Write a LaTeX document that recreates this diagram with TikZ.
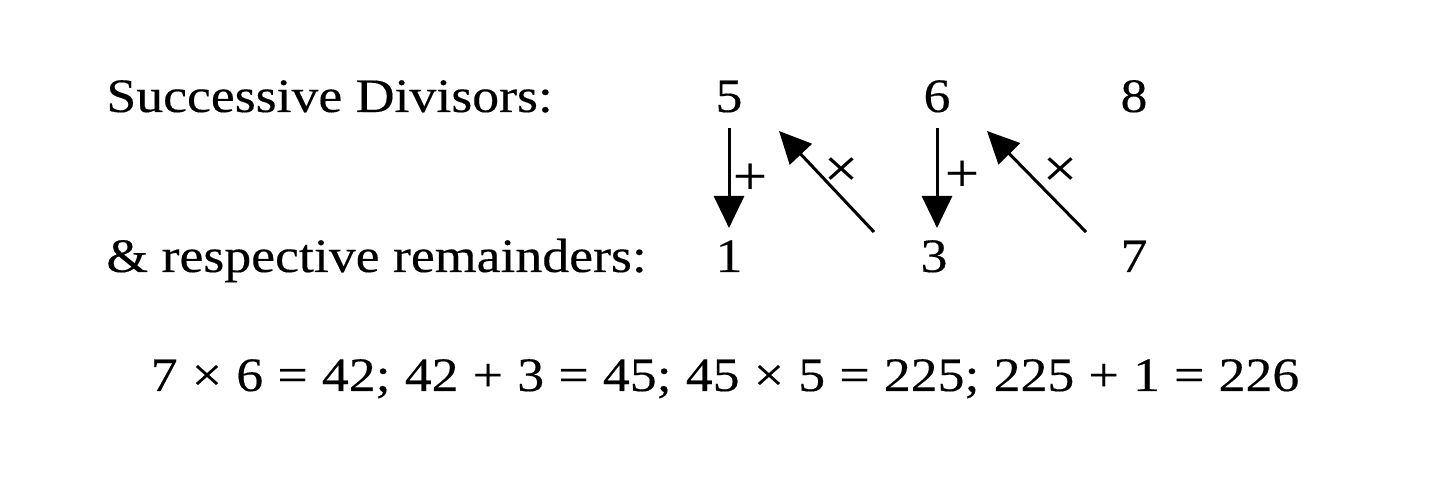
\documentclass[tikz,border=0pt]{standalone}
\usepackage{fontspec}
\setmainfont{Liberation Serif}[FakeStretch=1.12,FakeBold=0.3]
\usetikzlibrary{arrows.meta}
\begin{document}
\begin{tikzpicture}[x=0.5pt,y=-0.5pt,
  txt/.style={inner sep=0pt, font=\fontsize{24pt}{28pt}\selectfont},
  lbl/.style={txt, anchor=base west},
  num/.style={txt, anchor=base},
  opl/.style={inner sep=0pt, font=\fontsize{27pt}{30pt}\selectfont},
  arr/.style={line width=1.5pt, -{Triangle[length=16pt,width=15pt]}}]
\useasboundingbox (0,0) rectangle (1440,480);
\node[lbl] (lab1) at (106,112) {Successive Divisors:};
\node[lbl] (lab2) at (106,272) {\& respective remainders:};
\node[num] (d5) at (729,112) {5};
\node[num] (d6) at (937,112) {6};
\node[num] (d8) at (1134,112) {8};
\node[num] (r1) at (729,272) {1};
\node[num] (r3) at (934,272) {3};
\node[num] (r7) at (1134,272) {7};
\node[num] (eq) at (725,391) {\spaceskip=7.1pt 7 × 6 = 42; 42 + 3 = 45; 45 × 5 = 225; 225 + 1 = 226};
\coordinate (s1) at (729,128);
\coordinate (t1) at (729,228);
\coordinate (s2) at (874,232);
\coordinate (t2) at (779,131);
\coordinate (s3) at (937,128);
\coordinate (t3) at (937,228);
\coordinate (s4) at (1086,232);
\coordinate (t4) at (987,131);
\draw[arr] (s1) -- (t1);
\draw[arr] (s2) -- (t2);
\draw[arr] (s3) -- (t3);
\draw[arr] (s4) -- (t4);
\node[opl] (p1) at (750,179) {+};
\node[opl] (m1) at (841,172) {×};
\node[opl] (p2) at (962,176) {+};
\node[opl] (m2) at (1060,172) {×};
\end{tikzpicture}
\end{document}
